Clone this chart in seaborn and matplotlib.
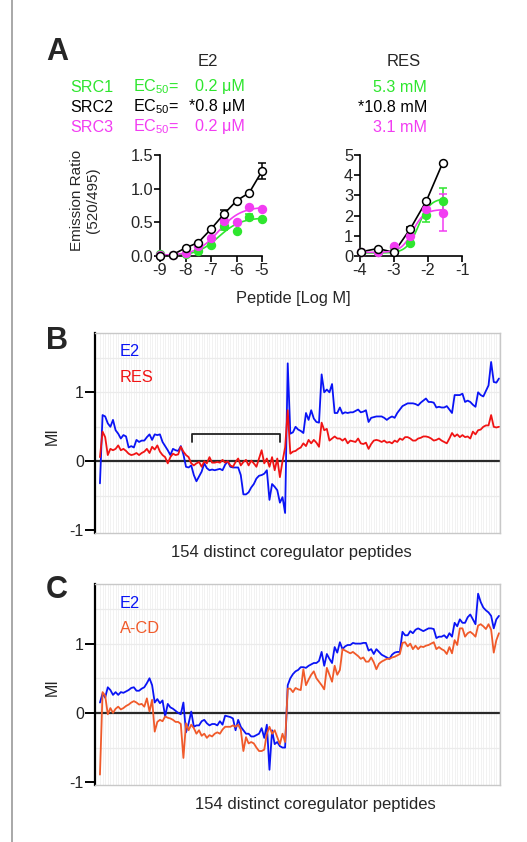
import numpy as np
import pandas as pd
import seaborn as sns
from matplotlib import pyplot as plt
from matplotlib.lines import Line2D

sns.set_theme(style="white")
plt.rcParams['font.family'] = ['Liberation Sans', 'DejaVu Sans']
plt.rcParams['mathtext.fontset'] = 'custom'
plt.rcParams['mathtext.rm'] = 'Liberation Sans'
plt.rcParams['axes.unicode_minus'] = False

GREEN = '#2ee62e'
MAGENTA = '#f23cf2'
BLUE = '#0a14f5'
RED = '#f01414'
ORANGE = '#f05a2a'

# ---- panel A : dose response ----
e2_logc = [-9, -8.5, -8, -7.5, -7, -6.5, -6, -5.5, -5]
e2_src1 = [0.03, 0.01, 0.03, 0.08, 0.17, 0.44, 0.37, 0.58, 0.55]
e2_src2 = [0.00, 0.02, 0.12, 0.20, 0.40, 0.62, 0.82, 0.94, 1.26]
e2_src3 = [0.01, 0.02, 0.04, 0.15, 0.27, 0.52, 0.50, 0.73, 0.70]
e2_err1 = [0, 0, 0, 0, 0, 0.05, 0, 0.04, 0]
e2_err2 = [0, 0, 0, 0, 0, 0.07, 0, 0, 0.12]
e2_err3 = [0, 0, 0, 0, 0, 0, 0, 0, 0]

res_logc = [-3.96, -3.48, -3.0, -2.52, -2.05, -1.57]
res_src1 = [0.18, 0.20, 0.45, 0.65, 2.05, 2.72]
res_src2 = [0.21, 0.37, 0.18, 1.35, 2.72, 4.60]
res_src3 = [0.18, 0.22, 0.48, 0.98, 2.32, 2.15]
res_err1 = [0, 0, 0, 0, 0.35, 0.65]
res_err2 = [0, 0, 0, 0.08, 0, 0]
res_err3 = [0, 0, 0, 0, 0, 0.92]

# fitted curve parameters (bottom, top, logEC50, hill)
e2_fit1 = (0.0, 0.57, -6.7, 1.0)
e2_fit3 = (0.01, 0.73, -6.7, 1.0)
res_fit1 = (0.15, 2.85, -2.28, 2.5)
res_fit3 = (0.18, 2.30, -2.45, 2.5)

src_names = ['SRC1', 'SRC2', 'SRC3']
e2_ec50 = ['0.2 \u03bcM', '*0.8 \u03bcM', '0.2 \u03bcM']
res_ec50 = ['5.3 mM', '*10.8 mM', '3.1 mM']

# ---- panels B, C : modulation index over 154 peptides ----
b_e2 = [
    -0.32, 0.67, 0.65, 0.55, 0.50, 0.60, 0.45, 0.40, 0.33, 0.38,
    0.36, 0.20, 0.22, 0.20, 0.31, 0.28, 0.30, 0.30, 0.35, 0.39,
    0.31, 0.39, 0.38, 0.39, 0.28, 0.22, 0.16, 0.09, 0.18, 0.16,
    0.15, 0.22, 0.10, -0.08, -0.09, -0.06, -0.20, -0.29, -0.22, -0.15,
    -0.03, -0.10, -0.13, -0.12, -0.13, -0.12, -0.11, -0.13, -0.05, 0.00,
    -0.08, -0.09, -0.09, -0.09, -0.20, -0.48, -0.48, -0.45, -0.38, -0.33,
    -0.25, -0.21, -0.20, -0.18, -0.13, -0.56, -0.33, -0.37, -0.42, -0.60,
    -0.52, -0.75, 1.42, 0.40, 0.42, 0.50, 0.46, 0.44, 0.41, 0.70,
    0.60, 0.74, 0.62, 0.57, 0.56, 1.26, 1.00, 1.04, 1.00, 1.12,
    0.70, 0.70, 0.78, 0.69, 0.71, 0.70, 0.71, 0.71, 0.73, 0.75,
    0.71, 0.72, 0.74, 0.57, 0.63, 0.64, 0.65, 0.65, 0.65, 0.63,
    0.60, 0.63, 0.65, 0.63, 0.70, 0.75, 0.80, 0.82, 0.84, 0.84,
    0.84, 0.83, 0.81, 0.85, 0.88, 0.91, 0.86, 0.86, 0.85, 0.78,
    0.79, 0.78, 0.78, 0.80, 0.75, 0.70, 0.96, 0.96, 0.96, 0.98,
    0.86, 0.88, 0.86, 0.82, 0.79, 1.00, 0.96, 0.94, 1.02, 1.10,
    1.44, 1.15, 1.14, 1.20,
]
b_res = [
    0.06, 0.43, 0.35, 0.09, 0.18, 0.16, 0.18, 0.23, 0.16, 0.18,
    0.15, 0.11, 0.09, 0.10, 0.12, 0.09, 0.12, 0.14, 0.18, 0.12,
    0.21, 0.17, 0.23, 0.14, 0.09, 0.06, -0.03, 0.06, 0.11, 0.09,
    0.10, 0.21, 0.14, 0.09, 0.06, -0.03, -0.06, -0.03, -0.01, -0.08,
    0.00, -0.03, 0.06, -0.02, -0.02, -0.01, -0.02, 0.02, -0.02, 0.00,
    -0.06, -0.08, -0.01, 0.04, -0.06, -0.01, 0.02, -0.06, 0.01, -0.03,
    -0.08, 0.04, 0.16, -0.03, 0.04, -0.08, 0.06, -0.13, 0.04, -0.23,
    0.00, 0.20, 0.74, 0.11, 0.14, 0.15, 0.18, 0.20, 0.26, 0.22,
    0.31, 0.26, 0.31, 0.27, 0.21, 0.56, 0.45, 0.47, 0.30, 0.33,
    0.36, 0.33, 0.33, 0.30, 0.33, 0.26, 0.30, 0.29, 0.28, 0.33,
    0.26, 0.25, 0.27, 0.18, 0.25, 0.30, 0.31, 0.30, 0.28, 0.30,
    0.27, 0.28, 0.26, 0.30, 0.28, 0.33, 0.31, 0.35, 0.35, 0.33,
    0.30, 0.30, 0.33, 0.34, 0.36, 0.36, 0.35, 0.33, 0.30, 0.31,
    0.33, 0.30, 0.28, 0.26, 0.33, 0.41, 0.36, 0.39, 0.35, 0.38,
    0.35, 0.36, 0.33, 0.43, 0.39, 0.45, 0.46, 0.50, 0.52, 0.52,
    0.67, 0.50, 0.49, 0.50,
]
c_e2 = [
    0.15, 0.28, 0.22, 0.37, 0.33, 0.26, 0.30, 0.26, 0.30, 0.29,
    0.31, 0.33, 0.36, 0.37, 0.32, 0.32, 0.35, 0.37, 0.43, 0.50,
    0.40, 0.15, 0.20, 0.14, 0.18, -0.05, 0.13, 0.08, 0.06, 0.03,
    0.00, -0.02, 0.15, -0.28, -0.15, 0.02, -0.20, -0.18, -0.18, -0.12,
    -0.10, -0.15, -0.18, -0.16, -0.16, -0.18, -0.12, -0.17, -0.04, -0.05,
    -0.06, -0.08, -0.25, -0.10, -0.20, -0.25, -0.30, -0.30, -0.34, -0.34,
    -0.32, -0.30, -0.22, -0.36, -0.17, -0.82, -0.25, -0.45, -0.42, -0.48,
    -0.50, -0.50, 0.40, 0.50, 0.56, 0.60, 0.62, 0.66, 0.66, 0.65,
    0.68, 0.70, 0.72, 0.72, 0.75, 0.88, 0.68, 0.85, 0.78, 0.72,
    0.95, 0.87, 1.02, 0.92, 0.96, 0.98, 0.98, 1.01, 1.00, 1.00,
    1.00, 1.01, 1.01, 0.90, 0.92, 0.85, 0.92, 0.88, 0.84, 0.82,
    0.80, 0.78, 0.84, 0.87, 0.88, 0.88, 1.17, 1.12, 1.12, 1.18,
    1.15, 1.20, 1.22, 1.20, 1.18, 1.20, 1.22, 1.22, 1.21, 1.08,
    1.10, 1.10, 1.12, 1.08, 1.15, 1.10, 1.30, 1.25, 1.35, 1.30,
    1.30, 1.38, 1.42, 1.35, 1.28, 1.72, 1.60, 1.52, 1.48, 1.45,
    1.40, 1.22, 1.35, 1.40,
]
c_acd = [
    -0.89, 0.30, 0.25, -0.02, 0.07, 0.00, 0.06, 0.09, 0.05, 0.07,
    0.10, 0.12, 0.15, 0.17, 0.15, 0.12, 0.13, 0.09, 0.21, 0.02,
    0.19, -0.27, -0.13, -0.10, -0.12, -0.05, -0.07, -0.08, -0.10, -0.13,
    -0.13, -0.16, -0.65, -0.15, -0.25, -0.17, -0.22, -0.30, -0.25, -0.33,
    -0.30, -0.36, -0.32, -0.34, -0.30, -0.28, -0.30, -0.24, -0.20, -0.20,
    -0.20, -0.18, -0.20, -0.17, -0.24, -0.55, -0.35, -0.44, -0.42, -0.44,
    -0.50, -0.55, -0.55, -0.53, -0.30, -0.20, -0.30, -0.25, -0.35, -0.45,
    -0.30, -0.42, 0.35, 0.35, 0.30, 0.36, 0.34, 0.33, 0.63, 0.40,
    0.48, 0.55, 0.60, 0.50, 0.45, 0.40, 0.34, 0.65, 0.55, 0.45,
    0.68, 0.55, 0.62, 0.92, 0.90, 0.88, 0.86, 0.88, 0.85, 0.82,
    0.78, 0.80, 0.74, 0.74, 0.80, 0.73, 0.63, 0.71, 0.74, 0.76,
    0.78, 0.78, 0.80, 0.81, 0.83, 0.85, 1.01, 1.02, 0.96, 1.00,
    0.92, 0.97, 0.92, 0.96, 0.95, 0.97, 0.98, 1.00, 1.02, 0.92,
    0.95, 0.92, 0.90, 0.85, 0.95, 0.86, 1.05, 0.98, 1.22, 1.22,
    1.10, 1.15, 1.17, 1.14, 1.10, 1.26, 1.28, 1.25, 1.21, 1.28,
    1.20, 0.87, 1.05, 1.15,
]
bracket = (35.3, 69.0, 0.40)

W, H = 527, 842


def fx(x):
    return x / W


def fy(y):
    return 1 - y / H


def hill(x, p):
    bottom, top, logec, h = p
    return bottom + (top - bottom) / (1 + 10 ** ((logec - x) * h))


fig = plt.figure(figsize=(W / 100, H / 100), dpi=100)
fig.add_artist(Line2D([fx(12), fx(12)], [0, 1], color='#999999', lw=1.2,
                      transform=fig.transFigure))


def dose_axes(ax, logc, ys, errs, fits, xlim, ylim, xticks, yticks, ylabels):
    for k, (y, e, col) in enumerate(zip(ys, errs, [GREEN, 'black', MAGENTA])):
        if fits[k] is None:
            sns.lineplot(x=logc, y=y, ax=ax, color='black', lw=1.2)
        else:
            xx = np.linspace(logc[0], logc[-1], 120)
            sns.lineplot(x=xx, y=hill(xx, fits[k]), ax=ax, color=col, lw=1.2)
        ax.errorbar(logc, y, yerr=e, fmt='none', ecolor=col, elinewidth=1.1,
                    capsize=3, capthick=1.1, clip_on=False)
    for y, col, face in [(ys[0], GREEN, GREEN), (ys[2], MAGENTA, MAGENTA),
                         (ys[1], 'black', 'white')]:
        sns.scatterplot(x=logc, y=y, ax=ax, color=face, edgecolor=col,
                        linewidth=1.1, s=32, clip_on=False, zorder=5)
    ax.set_xlim(*xlim)
    ax.set_ylim(*ylim)
    ax.set_xticks(xticks)
    ax.set_yticks(yticks)
    ax.set_yticklabels(ylabels)
    for s in ['top', 'right']:
        ax.spines[s].set_visible(False)
    for s in ['left', 'bottom']:
        ax.spines[s].set_color('black')
        ax.spines[s].set_linewidth(1.2)
    ax.tick_params(direction='out', length=4, width=1.2, color='black',
                   labelsize=11.8, pad=1, left=True, bottom=True)
    ax.set_xlabel('')
    ax.set_ylabel('')


axL = fig.add_axes([fx(160), fy(256), (262 - 160) / W, (256 - 155) / H])
dose_axes(axL, e2_logc, [e2_src1, e2_src2, e2_src3], [e2_err1, e2_err2, e2_err3],
          [e2_fit1, None, e2_fit3], (-9, -5), (0, 1.5), [-9, -8, -7, -6, -5],
          [0, 0.5, 1, 1.5], ['0.0', '0.5', '1.0', '1.5'])
axR = fig.add_axes([fx(360), fy(256), (462 - 360) / W, (256 - 155) / H])
dose_axes(axR, res_logc, [res_src1, res_src2, res_src3], [res_err1, res_err2, res_err3],
          [res_fit1, None, res_fit3], (-4, -1), (0, 5), [-4, -3, -2, -1],
          [0, 1, 2, 3, 4, 5], ['0', '1', '2', '3', '4', '5'])

fig.text(fx(57), fy(52), 'A', fontsize=22, fontweight='bold', ha='center', va='center')
fig.text(fx(208), fy(61), 'E2', fontsize=12, ha='center', va='center')
fig.text(fx(404), fy(61), 'RES', fontsize=12, ha='center', va='center')
for k, col in enumerate([GREEN, 'black', MAGENTA]):
    yy = fy(87 + 20 * k)
    fig.text(fx(70), yy, src_names[k], color=col, fontsize=11.6, va='center')
    fig.text(fx(133), yy, r'EC$_{\mathregular{50}}$=', color=col, fontsize=11.6, va='center')
    fig.text(fx(245), yy, e2_ec50[k], color=col, fontsize=11.6, va='center', ha='right')
    fig.text(fx(427), yy, res_ec50[k], color=col, fontsize=11.6, va='center', ha='right')
fig.text(fx(85), fy(200), 'Emission Ratio\n(520/495)', fontsize=11, rotation=90,
         ha='center', va='center', linespacing=1.1)
fig.text(fx(293), fy(299), 'Peptide [Log M]', fontsize=11.8, ha='center', va='center')


def mi_axes(ax, s1, s2, c1, c2, lab1, lab2):
    idx = np.arange(len(s1))
    ax.vlines(idx, -2, 3, color='#ededed', lw=0.5, zorder=0)
    for yv in [-0.5, 0.5, 1, 1.5]:
        ax.axhline(yv, color='#ebebeb', lw=0.9, zorder=0)
    ax.axhline(0, color='#2a2a2a', lw=1.6, zorder=1)
    sns.lineplot(x=idx, y=s1, ax=ax, color=c1, lw=1.3, zorder=3)
    sns.lineplot(x=idx, y=s2, ax=ax, color=c2, lw=1.3, zorder=4)
    ax.set_xlim(-1.9, 153.4)
    ax.set_ylim(-1.04, 1.86)
    ax.set_xticks([])
    ax.set_yticks([-1, 0, 1])
    ax.set_yticklabels(['-1', '0', '1'])
    for s in ['top', 'right', 'bottom']:
        ax.spines[s].set_color('#c8c8c8')
        ax.spines[s].set_linewidth(1.0)
    ax.spines['left'].set_color('black')
    ax.spines['left'].set_linewidth(1.6)
    ax.tick_params(axis='y', direction='out', length=7, width=1.4, color='black',
                   labelsize=11.5, pad=1, left=True)
    ax.set_xlabel('')
    ax.set_ylabel('')
    ax.text(0.062, 0.905, lab1, color=c1, fontsize=11.8, transform=ax.transAxes, va='center')
    ax.text(0.062, 0.78, lab2, color=c2, fontsize=11.8, transform=ax.transAxes, va='center')


axB = fig.add_axes([fx(95), fy(533), 405 / W, 200 / H])
mi_axes(axB, b_e2, b_res, BLUE, RED, 'E2', 'RES')
b0, b1, by = bracket
axB.plot([b0, b0, b1, b1], [by - 0.12, by, by, by - 0.12], color='#222222', lw=1.3)

axC = fig.add_axes([fx(95), fy(785), 405 / W, 201 / H])
mi_axes(axC, c_e2, c_acd, BLUE, ORANGE, 'E2', 'A-CD')

fig.text(fx(57), fy(341), 'B', fontsize=22, fontweight='bold', ha='center', va='center')
fig.text(fx(57), fy(590), 'C', fontsize=22, fontweight='bold', ha='center', va='center')
fig.text(fx(52), fy(436), 'MI', fontsize=11.5, rotation=90, ha='center', va='center')
fig.text(fx(52), fy(687), 'MI', fontsize=11.5, rotation=90, ha='center', va='center')
fig.text(fx(291), fy(553), '154 distinct coregulator peptides', fontsize=12,
         ha='center', va='center')
fig.text(fx(315), fy(805), '154 distinct coregulator peptides', fontsize=12,
         ha='center', va='center')

fig.savefig('out.png', dpi=100)
